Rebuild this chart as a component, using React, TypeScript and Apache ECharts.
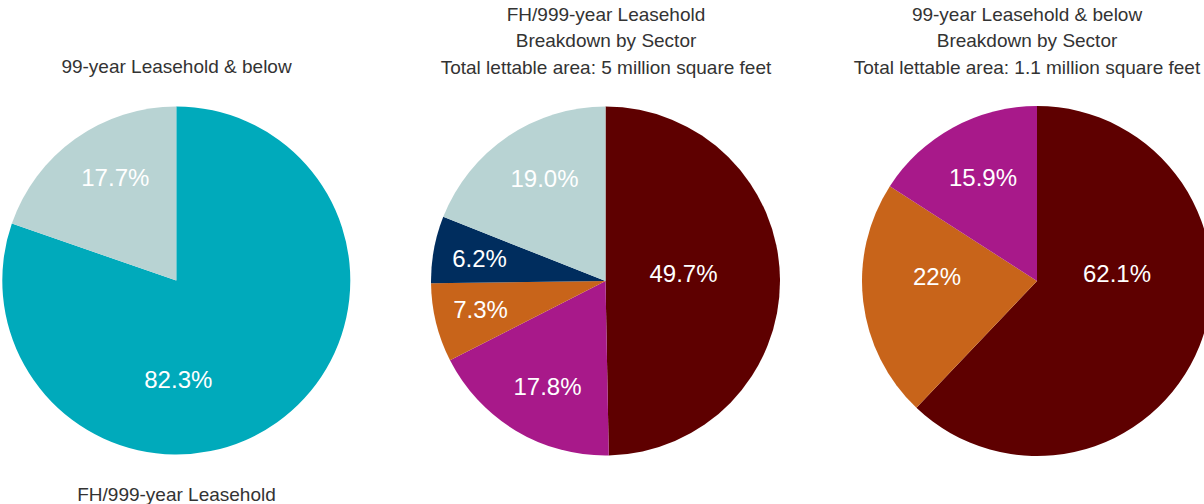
import React, { useEffect, useRef } from "react";
import * as echarts from "echarts";

// Left pie: tenure split (slice sizes as drawn in the picture; labels as printed)
const tenureCategories = ["FH/999-year Leasehold", "99-year Leasehold & below"];
const tenureValues = [80.3, 19.7];
const tenureLabels = ["82.3%", "17.7%"];

// Middle pie: FH/999-year Leasehold by sector
const fhCategories = ["Sector A", "Sector B", "Sector C", "Sector D", "Sector E"];
const fhValues = [49.7, 17.8, 7.3, 6.2, 19.0];
const fhLabels = ["49.7%", "17.8%", "7.3%", "6.2%", "19.0%"];

// Right pie: 99-year Leasehold & below by sector
const lhCategories = ["Sector A", "Sector C", "Sector B"];
const lhValues = [62.1, 22, 15.9];
const lhLabels = ["62.1%", "22%", "15.9%"];

const leftTitle = "99-year Leasehold & below";
const leftBottom = "FH/999-year Leasehold";
const midTitle = "FH/999-year Leasehold\nBreakdown by Sector\nTotal lettable area: 5 million square feet";
const rightTitle = "99-year Leasehold & below\nBreakdown by Sector\nTotal lettable area: 1.1 million square feet";

// styling / layout (not data)
const C = {
  teal: "#00AABB",
  light: "#B8D3D3",
  maroon: "#5E0000",
  magenta: "#A8198A",
  orange: "#C8641A",
  navy: "#002D5E",
};
const tenureColors = [C.teal, C.light];
const fhColors = [C.maroon, C.magenta, C.orange, C.navy, C.light];
const lhColors = [C.maroon, C.orange, C.magenta];

const FONT = '"Liberation Sans", Arial, Helvetica, sans-serif';
const CENTERS: [number, number][] = [
  [176.3, 280.5],
  [605.5, 281],
  [1037, 281],
];
const RADII = [174, 174.5, 175];
// label centres relative to each pie centre
const LABEL_OFFSETS: [number, number][][] = [
  [
    [2, 99],
    [-61, -103],
  ],
  [
    [78, -8],
    [-58, 105],
    [-125, 28],
    [-126, -23],
    [-61, -103],
  ],
  [
    [80, -8],
    [-100, -5],
    [-54, -104],
  ],
];

function buildSeries(
  idx: number,
  cats: string[],
  vals: number[],
  labels: string[],
  colors: string[]
) {
  return {
    type: "pie",
    silent: true,
    center: CENTERS[idx],
    radius: RADII[idx],
    startAngle: 90,
    clockwise: true,
    avoidLabelOverlap: false,
    labelLine: { show: false },
    emphasis: { disabled: true },
    itemStyle: { borderWidth: 0 },
    label: {
      show: true,
      position: "inside",
      color: "#ffffff",
      fontFamily: FONT,
      fontSize: 24,
      formatter: (p: any) => labels[p.dataIndex],
    },
    labelLayout: (p: any) => {
      const off = LABEL_OFFSETS[idx][p.dataIndex];
      const r = p.labelRect;
      const tx = CENTERS[idx][0] + off[0];
      const ty = CENTERS[idx][1] + off[1];
      return {
        dx: tx - (r.x + r.width / 2),
        dy: ty - (r.y + r.height / 2),
      };
    },
    data: cats.map((name, i) => ({
      name,
      value: vals[i],
      itemStyle: { color: colors[i] },
    })),
  };
}

export default function App() {
  const ref = useRef<HTMLDivElement>(null);

  useEffect(() => {
    if (!ref.current) return;
    const chart = echarts.init(ref.current, undefined, { renderer: "svg" });
    const titleStyle = {
      fill: "#333333",
      fontFamily: FONT,
      fontSize: 19,
      align: "center",
      lineHeight: 26.5,
    };
    chart.setOption({
      animation: false,
      backgroundColor: "#ffffff",
      series: [
        buildSeries(0, tenureCategories, tenureValues, tenureLabels, tenureColors),
        buildSeries(1, fhCategories, fhValues, fhLabels, fhColors),
        buildSeries(2, lhCategories, lhValues, lhLabels, lhColors),
      ],
      graphic: [
        {
          type: "text",
          x: 176.5,
          y: 66,
          silent: true,
          style: { ...titleStyle, text: leftTitle, verticalAlign: "middle" },
        },
        {
          type: "text",
          x: 176.5,
          y: 494,
          silent: true,
          style: { ...titleStyle, text: leftBottom, verticalAlign: "middle" },
        },
        {
          type: "text",
          x: 606,
          y: 1,
          silent: true,
          style: { ...titleStyle, text: midTitle, verticalAlign: "top" },
        },
        {
          type: "text",
          x: 1027,
          y: 1,
          silent: true,
          style: { ...titleStyle, text: rightTitle, verticalAlign: "top" },
        },
      ],
    });
    return () => chart.dispose();
  }, []);

  return (
    <div
      ref={ref}
      style={{ position: "fixed", left: 0, top: 0, width: 1204, height: 504 }}
    />
  );
}
